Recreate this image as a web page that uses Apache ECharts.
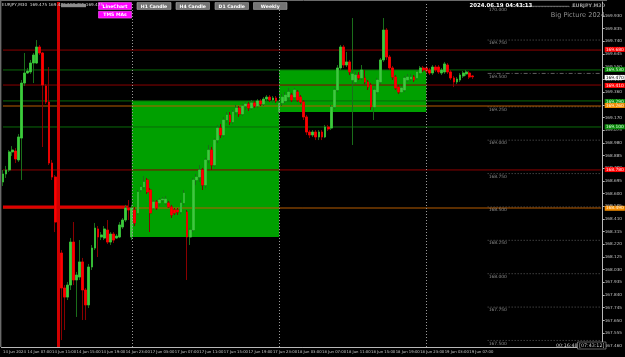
<!DOCTYPE html>
<html><head><meta charset="utf-8">
<script src="https://cdn.jsdelivr.net/npm/echarts@6/dist/echarts.min.js"></script>
<style>html,body{margin:0;padding:0;background:#000;}#c{width:625px;height:357px;}</style>
</head><body><div id="c"></div>
<script>
// ---- data ----
const days = ['14 Jun', '17 Jun', '18 Jun', '19 Jun'];
const firstSlot = [6, 0, 0, 0];   // half-hour slot of first bar of each day
const lastSlot = [47, 47, 47, 15];
const futureSlots = 42;           // empty chart-shift space after the last bar

// M30 candles: [open, close, low, high]
const ohlc = [
[168.687,168.747,168.657,168.777],[168.747,168.777,168.717,168.807],[168.777,168.912,168.762,168.926],[168.912,168.926,168.882,168.956],
[168.919,168.859,168.829,168.941],[168.852,169.024,168.837,169.046],[169.016,169.428,168.702,169.451],[169.428,169.503,169.406,169.653],
[169.503,169.518,169.496,169.541],[169.511,169.578,169.496,169.601],[169.578,169.638,169.428,169.653],[169.578,169.698,169.571,169.750],
[169.698,169.653,169.638,169.713],[169.653,169.413,168.949,169.661],[169.406,169.286,169.271,169.421],[169.286,168.829,168.814,169.548],
[168.829,168.724,168.702,168.852],[168.724,168.387,168.312,168.739],[168.387,168.155,168.118,168.402],[168.155,167.893,167.503,168.177],
[167.893,167.825,167.578,167.915],[167.825,167.915,167.803,167.938],[167.915,168.237,167.878,168.267],[168.237,167.953,167.915,168.387],
[167.953,167.990,167.676,168.013],[167.975,168.088,167.953,168.252],[168.088,167.878,167.653,168.118],[167.878,167.766,167.653,167.893],
[167.766,168.050,167.743,168.073],[168.050,168.192,168.028,168.215],[168.192,168.342,168.177,168.380],[168.335,168.275,168.125,168.357],
[168.275,168.290,168.252,168.312],[168.267,168.335,168.252,168.357],[168.327,168.237,168.222,168.402],[168.237,168.297,168.215,168.312],
[168.297,168.252,168.230,168.312],[168.267,168.282,168.260,168.297],[168.275,168.365,168.267,168.387],[168.350,168.402,168.335,168.417],
[168.402,168.492,168.387,168.515],[168.492,168.477,168.402,168.552],
[168.275,168.492,168.252,168.515],[168.477,168.380,168.357,168.500],[168.455,168.612,168.440,168.627],[168.627,168.649,168.612,168.664],
[168.649,168.687,168.634,168.732],[168.702,168.612,168.597,168.717],[168.627,168.455,168.312,168.642],[168.492,168.537,168.477,168.552],
[168.537,168.492,168.477,168.552],[168.530,168.552,168.507,168.567],[168.552,168.559,168.537,168.574],[168.530,168.559,168.515,168.582],
[168.530,168.500,168.492,168.545],[168.500,168.440,168.417,168.515],[168.477,168.455,168.440,168.492],[168.477,168.462,168.440,168.492],
[168.462,168.530,168.447,168.552],[168.530,168.604,168.515,168.627],[168.462,168.275,167.953,168.477],[168.275,168.327,168.215,168.342],
[168.327,168.702,168.312,168.717],[168.702,168.724,168.664,168.747],[168.724,168.777,168.687,168.814],[168.777,168.664,168.627,168.792],
[168.664,168.852,168.642,168.867],[168.852,168.926,168.829,168.964],[168.926,168.814,168.777,168.949],[168.814,169.001,168.799,169.016],
[169.001,169.091,168.979,169.114],[169.091,169.039,169.016,169.121],[169.039,169.151,169.024,169.174],[169.151,169.189,169.129,169.211],
[169.189,169.136,169.114,169.211],[169.136,169.211,169.121,169.226],[169.211,169.241,169.189,169.264],[169.241,169.196,169.174,169.256],
[169.196,169.256,169.181,169.271],[169.256,169.271,169.226,169.286],[169.271,169.241,169.219,169.286],[169.241,169.279,169.226,169.301],
[169.279,169.256,169.241,169.294],[169.256,169.294,169.241,169.308],[169.294,169.271,169.256,169.308],[169.271,169.308,169.256,169.323],
[169.308,169.323,169.294,169.338],[169.323,169.301,169.286,169.338],[169.301,169.316,169.279,169.331],[169.316,169.294,169.279,169.331],
[169.211,169.279,169.196,169.294],[169.279,169.323,169.256,169.346],[169.294,169.338,169.279,169.361],[169.323,169.361,169.301,169.391],
[169.338,169.301,169.286,169.353],[169.323,169.376,169.308,169.391],[169.361,169.301,169.286,169.376],[169.323,169.286,169.271,169.338],
[169.286,169.174,169.151,169.301],[169.174,169.061,169.039,169.189],[169.061,169.039,169.016,169.076],[169.039,169.061,169.024,169.076],
[169.061,169.024,169.001,169.076],[169.024,169.061,169.001,169.076],[169.061,169.024,169.001,169.076],[169.024,169.099,169.016,169.114],
[169.099,169.084,169.069,169.114],[169.091,169.249,169.076,169.264],[169.249,169.376,169.234,169.391],[169.376,169.541,169.361,169.563],
[169.541,169.698,169.526,169.713],[169.698,169.563,169.541,169.713],[169.563,169.586,169.548,169.661],[169.586,169.511,169.488,169.601],
[169.451,169.496,168.964,169.915],[169.436,169.488,169.421,169.511],[169.488,169.466,169.451,169.511],[169.466,169.526,169.451,169.563],
[169.466,169.436,169.421,169.526],[169.436,169.398,169.376,169.451],[169.413,169.249,169.226,169.428],[169.249,169.376,169.151,169.391],
[169.361,169.451,169.346,169.466],[169.436,169.601,169.421,169.616],[169.601,169.825,169.586,169.915],[169.825,169.623,169.601,169.840],
[169.623,169.541,169.526,169.638],[169.541,169.473,169.451,169.556],[169.473,169.391,169.376,169.488],[169.398,169.361,169.346,169.413],
[169.361,169.391,169.353,169.406],[169.376,169.466,169.361,169.481],[169.451,169.473,169.436,169.496],[169.458,169.473,169.443,169.496],
[169.473,169.451,169.436,169.488],[169.466,169.511,169.451,169.526],[169.503,169.541,169.488,169.556],[169.541,169.526,169.511,169.556],
[169.541,169.518,169.503,169.556],[169.526,169.503,169.488,169.541],[169.503,169.548,169.488,169.563],[169.548,169.526,169.511,169.563],
[169.548,169.511,169.496,169.563],[169.503,169.526,169.488,169.541],[169.511,169.571,169.496,169.586],[169.563,169.511,169.496,169.578],
[169.511,169.466,169.451,169.526],[169.466,169.436,169.398,169.481],[169.436,169.458,169.421,169.473],[169.451,169.488,169.436,169.503],
[169.481,169.503,169.466,169.518],[169.496,169.511,169.481,169.526],[169.503,169.473,169.458,169.518],[169.481,169.475,169.458,169.488]
];

// daily body boxes (D1 open/close)
const boxStart = ['17 Jun 00:00', '18 Jun 00:00'];
const boxEnd = ['18 Jun 00:00', '19 Jun 00:00'];
const boxLow = [168.275, 169.211];
const boxHigh = [169.294, 169.526];

// horizontal levels with axis tags, grouped by kind
const resistanceLevels = [169.675, 169.413, 168.777];
const supportLevels = [169.526, 169.294, 169.099];
const pivotLevels = [169.256, 168.492];
const bidPrice = 169.475;

// round-number levels
const roundLevels = [170.0, 169.75, 169.5, 169.25, 169.0, 168.75, 168.5, 168.25, 168.0, 167.75, 167.5];
const roundFrom = 158;

// day separators and the red marker
const daySeps = ['17 Jun 00:00', '18 Jun 00:00', '19 Jun 00:00'];
const markerBar = '14 Jun 12:00';
const markerPrice = 168.5;
const markerFrom = '14 Jun 03:00';
const markerTo = '14 Jun 23:30';

// price axis tick labels
const yTicks = [167.460,167.555,167.650,167.745,167.840,167.935,168.030,168.125,168.220,168.315,168.410,168.505,168.600,
168.695,168.790,168.885,168.980,169.075,169.170,169.265,169.360,169.455,169.550,169.645,169.740,169.835,169.930];
const firstLabel = '14 Jun 2024';

// ---- build ----
const cats = [];
days.forEach((d, k) => {
  for (let s = firstSlot[k]; s <= lastSlot[k]; s++) {
    const hh = String(Math.floor(s / 2)).padStart(2, '0');
    cats.push(d + ' ' + hh + ':' + (s % 2 ? '30' : '00'));
  }
});
const nBars = cats.length;
for (let i = 1; i <= futureSlots; i++) cats.push('f' + i);
const firstCat = cats[0];
const lastCat = cats[cats.length - 1];

const bodies = ohlc.map(d => [d[0], d[1], Math.min(d[0], d[1]), Math.max(d[0], d[1])]);

const F = 'DejaVu Sans';
const FS = 4.4;
const CLEAR = 'rgba(0,0,0,0)';

// a level = a plain line series across the plot + an axis tag
function levelSeries(prices, line, bg, fg) {
  const out = prices.map(p => ({
    type: 'line', z: 2, silent: true, symbol: 'none', animation: false,
    lineStyle: { color: line, width: 1, type: 'solid' },
    data: [[firstCat, p], [lastCat, p]]
  }));
  out.push({
    type: 'line', data: [], z: 5, silent: true,
    markLine: {
      silent: true, symbol: ['none', 'none'], animation: false,
      lineStyle: { color: CLEAR, width: 1, type: 'solid' },
      label: { show: true, position: 'end', distance: 2, formatter: (q) => Number(q.value).toFixed(3), backgroundColor: bg,
        color: fg, fontSize: FS, fontFamily: F, padding: [1, 1, 0, 1] },
      data: prices.map(p => ({ yAxis: p }))
    }
  });
  return out;
}

const roundLineSeries = roundLevels.map((p, i) => ({
  type: 'line', z: 2, silent: true, symbol: 'none', animation: false,
  lineStyle: { color: '#5e5e5e', width: 1, type: i === 2 ? [4, 2, 1, 2] : [1, 2] },
  data: [[cats[roundFrom], p], [lastCat, p]]
}));
const roundLabels = {
  type: 'line', data: [], z: 5, silent: true,
  markLine: { silent: true, symbol: ['none', 'none'], animation: false,
    lineStyle: { color: CLEAR, width: 1, type: 'solid' },
    data: roundLevels.map(p => [
      { coord: [cats[roundFrom], p], lineStyle: { color: CLEAR },
        label: { show: true, position: 'insideStartBottom', distance: 1, formatter: p.toFixed(3), color: '#8a8a8a', fontSize: FS, fontFamily: F } },
      { coord: [lastCat, p] }]) }
};

const boxes = boxStart.map((s, i) => [
  { xAxis: s, yAxis: boxLow[i], itemStyle: { color: '#00a000', opacity: 1 } },
  { xAxis: boxEnd[i], yAxis: boxHigh[i] }
]);

function btn(x, y, w, h, fill, stroke, text) {
  return [
    { type: 'rect', z: 100, shape: { x: x, y: y, width: w, height: h }, style: { fill: fill, stroke: stroke, lineWidth: 0.6 } },
    { type: 'text', z: 101, x: x + w / 2, y: y + h / 2 + 0.3, style: { text: text, fill: '#ffffff', fontSize: 4.6, fontWeight: 'bold',
      fontFamily: F, align: 'center', verticalAlign: 'middle' } }
  ];
}

const graphic = [].concat(
  [{ type: 'line', z: 100, shape: { x1: 0, y1: 0.5, x2: 607, y2: 0.5 }, style: { stroke: '#6a6a6a', lineWidth: 1 } },
   { type: 'line', z: 100, shape: { x1: 0.7, y1: 0, x2: 0.7, y2: 347 }, style: { stroke: '#6a6a6a', lineWidth: 1.4 } },
   { type: 'text', z: 101, x: 2, y: 2.8, style: { text: 'EURJPY,M30  169.475 169.482 169.465 169.475', fill: '#d8d8d8', fontSize: 4.2, fontFamily: F } },
   { type: 'rect', z: 102, shape: { x: 61, y: 3.8, width: 25, height: 3.4 }, style: { fill: '#8c8c8c' } }],
  btn(98.5, 2.6, 33, 6.8, '#ff00ff', '#ff66ff', 'LineChart'),
  btn(98.5, 11.3, 33, 6.8, '#ff00ff', '#ff66ff', 'TMS MAs'),
  btn(137, 2.6, 34, 6.8, '#747474', '#a8a8a8', 'H1 Candle'),
  btn(176, 2.6, 33.5, 6.8, '#747474', '#a8a8a8', 'H4 Candle'),
  btn(215, 2.6, 33.5, 6.8, '#747474', '#a8a8a8', 'D1 Candle'),
  btn(253.5, 2.6, 33.5, 6.8, '#747474', '#a8a8a8', 'Weekly'),
  [{ type: 'text', z: 101, x: 469.5, y: 3, style: { text: '2024.06.19 04:43:13', fill: '#ffffff', fontSize: 5.4, fontWeight: 'bold', fontFamily: F } },
   { type: 'line', z: 100, shape: { x1: 520, y1: 6.3, x2: 569, y2: 6.3 }, style: { stroke: '#8a8a8a', lineWidth: 0.8 } },
   { type: 'text', z: 101, x: 605, y: 3.3, style: { text: 'EURJPY M30', fill: '#9a9a9a', fontSize: 4.8, fontWeight: 'bold', fontFamily: F, align: 'right' } },
   { type: 'text', z: 101, x: 605, y: 12, style: { text: 'Big Picture 2024', fill: '#8e8e8e', fontSize: 6.6, fontFamily: F, align: 'right' } },
   { type: 'text', z: 101, x: 556, y: 343.5, style: { text: '00:16:48', fill: '#c8c8c8', fontSize: 4.8, fontFamily: F } },
   { type: 'rect', z: 100, shape: { x: 577.5, y: 342, width: 28.5, height: 7 }, style: { fill: '#000', stroke: '#8a8a8a', lineWidth: 0.7 } },
   { type: 'text', z: 101, x: 591.7, y: 345.7, style: { text: '[07:43:12]', fill: '#c8c8c8', fontSize: 4.8, fontFamily: F, align: 'center', verticalAlign: 'middle' } }]
);

const chart = echarts.init(document.getElementById('c'), null, { renderer: 'canvas' });
chart.setOption({
  backgroundColor: '#000000',
  animation: false,
  grid: { left: 0, right: 18, top: 2, bottom: 10, containLabel: false },
  xAxis: {
    type: 'category', data: cats, boundaryGap: true,
    axisLine: { lineStyle: { color: '#b8b8b8', width: 1 } },
    axisTick: { alignWithLabel: true, length: 2, interval: (i) => i % 8 === 0 && i < nBars, lineStyle: { color: '#b8b8b8' } },
    axisLabel: {
      interval: (i) => i % 8 === 0 && i < nBars, showMinLabel: true,
      formatter: (v, i) => (i === 0 ? firstLabel : (v.charAt(0) === 'f' ? '' : v)),
      align: 'left', color: '#c8c8c8', fontSize: 3.8, fontFamily: F, margin: 3
    },
    splitLine: { show: false }
  },
  yAxis: {
    type: 'value', position: 'right', min: 167.451, max: 170.035,
    axisLine: { show: true, lineStyle: { color: '#b8b8b8', width: 1 } },
    axisTick: { show: true, length: 2, customValues: yTicks, lineStyle: { color: '#b8b8b8' } },
    axisLabel: { customValues: yTicks, formatter: (v) => v.toFixed(3), color: '#c0c0c0', fontSize: 4.2, fontFamily: F, margin: 2 },
    splitLine: { show: false }
  },
  graphic: graphic,
  series: [].concat(
    [{ type: 'line', data: [], z: 1, silent: true, markArea: { silent: true, data: boxes } },
     { type: 'line', data: [], z: 2, silent: true,
       markLine: { silent: true, symbol: ['none', 'none'], animation: false, label: { show: false },
         lineStyle: { color: '#9a9a9a', width: 1, type: [1, 2] },
         data: daySeps.map(c => ({ xAxis: c })) } }],
    roundLineSeries, [roundLabels],
    levelSeries(resistanceLevels, '#8c0000', '#ff0000', '#ffe6e6'),
    levelSeries(supportLevels, '#0a6a0a', '#0a8a0a', '#dcffdc'),
    levelSeries(pivotLevels, '#b85c00', '#f08a00', '#fff2d8'),
    [{ type: 'line', data: [], z: 5, silent: true,
       markLine: { silent: true, symbol: ['none', 'none'], animation: false,
         lineStyle: { color: CLEAR, width: 1, type: 'solid' },
         label: { show: true, position: 'end', distance: 2, formatter: (q) => Number(q.value).toFixed(3), backgroundColor: '#ffffff',
           color: '#000', fontSize: FS, fontFamily: F, padding: [1, 1, 0, 1] },
         data: [{ yAxis: bidPrice }] } },
     { type: 'line', z: 2, silent: true, symbol: 'none', animation: false,
       lineStyle: { color: '#e00000', width: 3, type: 'solid' },
       data: [[markerFrom, markerPrice], [markerTo, markerPrice]] },
     { type: 'line', data: [], z: 2, silent: true,
       markLine: { silent: true, symbol: ['none', 'none'], animation: false, label: { show: false },
         lineStyle: { color: '#d00000', width: 3, type: 'solid' },
         data: [{ xAxis: markerBar }] } },
     { type: 'candlestick', name: 'wicks', data: ohlc, z: 3, barWidth: 2.3, silent: true,
       itemStyle: { color: '#1a6e1a', color0: '#8a0000', borderColor: '#1a6e1a', borderColor0: '#8a0000', borderWidth: 1 } },
     { type: 'candlestick', name: 'bodies', data: bodies, z: 4, barWidth: 2.3, silent: true,
       itemStyle: { color: '#3ccc3c', color0: '#ff0000', borderColor: '#3ccc3c', borderColor0: '#ff0000', borderWidth: 0.6 } }]
  )
});
</script>
</body></html>
